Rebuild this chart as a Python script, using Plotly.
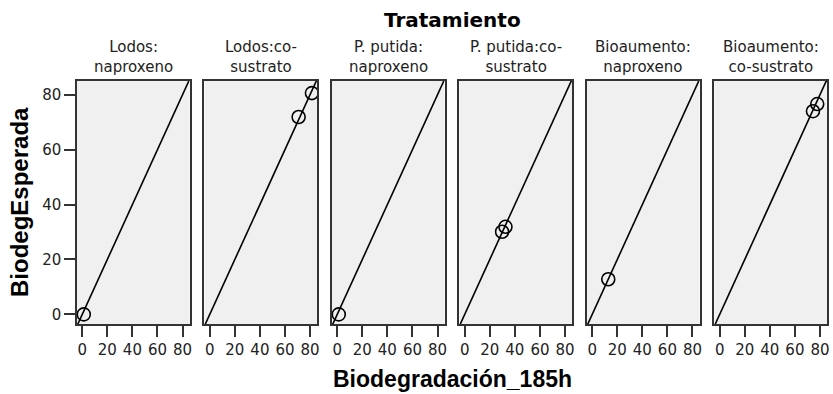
import plotly.graph_objects as go
from plotly.subplots import make_subplots

# ── Data ──────────────────────────────────────────────────────
panel_labels = [
    "Lodos:<br>naproxeno",
    "Lodos:co-<br>sustrato",
    "P. putida:<br>naproxeno",
    "P. putida:co-<br>sustrato",
    "Bioaumento:<br>naproxeno",
    "Bioaumento:<br>co-sustrato",
]

# Biodegradación_185h (x) and BiodegEsperada (y) per treatment
biodeg_185h = [
    [1.2],
    [70.9, 81.5],
    [1.2],
    [29.8, 32.5],
    [12.8],
    [74.4, 77.8],
]
biodeg_esperada = [
    [0.0],
    [71.9, 80.6],
    [0.0],
    [30.1, 31.9],
    [12.8],
    [74.0, 76.6],
]

tick_vals = [0, 20, 40, 60, 80]
AX_MIN, AX_MAX = -4.2, 85.6

# ── Style ─────────────────────────────────────────────────────
FRAME = "#333333"
PANEL_BG = "#F0F0F0"
TICK_FONT = dict(family="DejaVu Sans", size=15, color="#222222")

fig = make_subplots(rows=1, cols=6, horizontal_spacing=0.0199)

for i in range(6):
    col = i + 1
    # reference line y = x
    fig.add_trace(go.Scatter(
        x=[AX_MIN, AX_MAX], y=[AX_MIN, AX_MAX],
        mode="lines", line=dict(color="black", width=1.6),
        showlegend=False, hoverinfo="skip",
    ), row=1, col=col)
    fig.add_trace(go.Scatter(
        x=biodeg_185h[i], y=biodeg_esperada[i],
        mode="markers",
        marker=dict(symbol="circle-open", size=13, color="black",
                    line=dict(width=1.6, color="black")),
        showlegend=False,
    ), row=1, col=col)

    fig.update_xaxes(
        range=[AX_MIN, AX_MAX], tickvals=tick_vals, ticks="outside",
        ticklen=11, tickwidth=1.5, tickcolor=FRAME,
        showline=True, mirror=True, linecolor=FRAME, linewidth=1.5,
        showgrid=False, zeroline=False, tickfont=TICK_FONT,
        row=1, col=col,
    )
    fig.update_yaxes(
        range=[AX_MIN + 0.7, AX_MAX - 0.6], tickvals=tick_vals,
        ticks="outside" if i == 0 else "", showticklabels=(i == 0),
        ticklen=11, tickwidth=1.5, tickcolor=FRAME,
        showline=True, mirror=True, linecolor=FRAME, linewidth=1.5,
        showgrid=False, zeroline=False, tickfont=TICK_FONT,
        row=1, col=col,
    )

# panel titles
for i, label in enumerate(panel_labels):
    xref = "x domain" if i == 0 else f"x{i + 1} domain"
    fig.add_annotation(
        text=label, xref=xref, yref="paper", x=0.5, y=1.0,
        xanchor="center", yanchor="bottom", yshift=3, showarrow=False,
        font=dict(family="DejaVu Sans", size=15, color="#222222"),
    )

fig.add_annotation(
    text="<b>Tratamiento</b>", xref="paper", yref="paper", x=0.5, y=1.0,
    xanchor="center", yanchor="middle", yshift=61, showarrow=False,
    font=dict(family="DejaVu Sans", size=20, color="black"),
)
fig.add_annotation(
    text="<b>Biodegradación_185h</b>", xref="paper", yref="paper",
    x=0.5, y=0, xanchor="center", yanchor="middle", yshift=-55,
    showarrow=False, borderpad=0,
    font=dict(family="Liberation Sans", size=23, color="black"),
)
fig.add_annotation(
    text="<b>BiodegEsperada</b>", xref="paper", yref="paper",
    x=0, y=0.5, xanchor="right", yanchor="middle", xshift=-42,
    textangle=-90, showarrow=False,
    font=dict(family="Liberation Sans", size=24, color="black"),
)

fig.update_layout(
    width=833, height=394,
    margin=dict(l=77, r=3, t=81, b=70),
    paper_bgcolor="white",
    plot_bgcolor=PANEL_BG,
)

fig.write_html(
    "out.html",
    config={"displayModeBar": False},
    post_script="document.body.style.margin='0px';",
)
